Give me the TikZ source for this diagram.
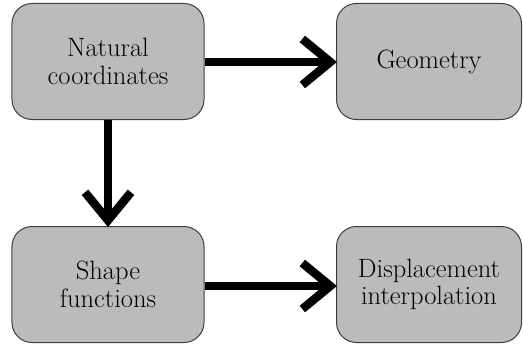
\documentclass[tikz,border=0pt]{standalone}
\usetikzlibrary{arrows.meta}
\definecolor{boxfill}{RGB}{187,187,187}
\definecolor{boxline}{RGB}{60,60,60}
\tikzset{
  block/.style={draw=boxline, line width=1bp, fill=boxfill, rounded corners=20bp,
    minimum width=192bp, minimum height=116bp, align=center, inner sep=0pt,
    font=\rmfamily\fontsize{26.5bp}{27.5bp}\selectfont, text=black},
  flow/.style={line width=8.5bp, draw=black,
    -{Straight Barb[length=28bp,width=46bp]}, shorten >=-1bp}
}
\begin{document}
\begin{tikzpicture}[x=1bp,y=1bp]
\useasboundingbox (0,0) rectangle (523,344);
\node[block] (nat) at (108,282.5) {Natural\\coordinates};
\node[block, minimum width=185bp] (geo) at (429,282.5) {Geometry};
\node[block] (shape) at (108,59.5) {Shape\\functions};
\node[block, minimum width=185bp] (disp) at (429,59.5) {Displacement\\interpolation};
\draw[flow] (nat.east |- 0,282) -- (geo.west |- 0,282);
\draw[flow] (nat.south) -- (shape.north);
\draw[flow] (shape.east |- 0,58) -- (disp.west |- 0,58);
\end{tikzpicture}
\end{document}
